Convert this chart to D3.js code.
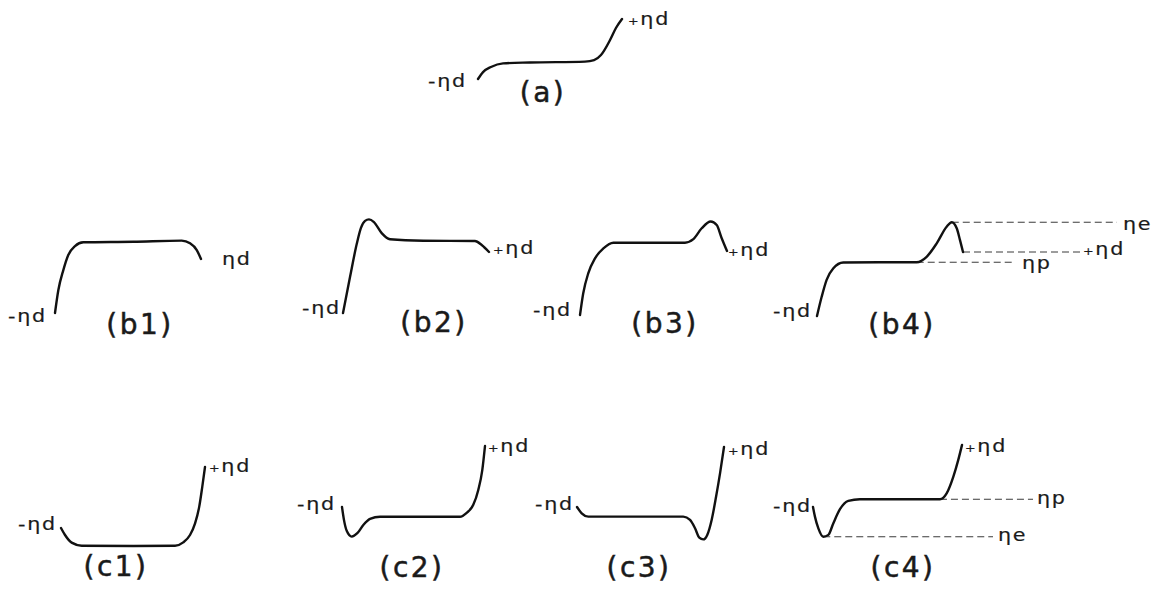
<!DOCTYPE html>
<html>
<head>
<meta charset="utf-8">
<script src="https://cdn.jsdelivr.net/npm/d3@7"></script>
<style>
  html, body { margin: 0; padding: 0; background: #ffffff; }
  svg { display: block; }
  text { font-family: "DejaVu Sans", sans-serif; fill: #1a1a1a; stroke: #1a1a1a; }
</style>
</head>
<body>
<svg id="fig" width="1162" height="594"></svg>
<script>
// Overpotential profiles along the electrode.
// Each point: [position along the electrode, 0–100, overpotential in units of ηd]
const panelIds = ["a", "b1", "b2", "b3", "b4", "c1", "c2", "c3", "c4"];
const panelTitles = ["(a)", "(b1)", "(b2)", "(b3)", "(b4)", "(c1)", "(c2)", "(c3)", "(c4)"];
const lowLabels = ["-ηd", "-ηd", "-ηd", "-ηd", "-ηd", "-ηd", "-ηd", "-ηd", "-ηd"];
const highLabels = ["+ηd", "ηd", "+ηd", "+ηd", null, "+ηd", "+ηd", "+ηd", "+ηd"];

const profileA = [
  [0, -1], [3.5, -0.77], [9, -0.6], [17.4, -0.48], [36, -0.45], [74.3, -0.42],
  [80.6, -0.37], [85.4, -0.2], [91.7, 0.3], [95.8, 0.7], [100, 1]
];
const profileB1 = [
  [0, -1], [2.3, -0.15], [5.7, 0.59], [9.1, 1.15], [13.7, 1.48], [19.4, 1.62],
  [53.6, 1.64], [86.8, 1.68], [92.5, 1.58], [97.1, 1.33], [100, 1]
];
const profileB2 = [
  [0, -1], [4.8, 0.18], [9.4, 1.26], [12.3, 1.79], [15.1, 2.02], [17.8, 2.07],
  [21.2, 1.98], [26.5, 1.62], [32.2, 1.42], [55, 1.37], [90.4, 1.36], [95, 1.23], [100, 1]
];
const profileB3 = [
  [0, -1], [2.2, -0.32], [5.6, 0.30], [10.2, 0.77], [15.9, 1.08], [22.7, 1.26],
  [49.9, 1.26], [71.4, 1.26], [77.1, 1.37], [82.8, 1.71], [88.9, 1.92], [93, 1.81],
  [96.4, 1.40], [100, 1]
];
const profileB4 = [
  [0, -1], [3.2, -0.40], [6.6, 0.13], [11.2, 0.49], [18, 0.67], [43.2, 0.68],
  [68.3, 0.68], [75.1, 0.85], [82, 1.27], [88.8, 1.79], [92.3, 1.93], [95.7, 1.74],
  [97.9, 1.38], [100, 1]
];
const profileC1 = [
  [0, -1], [2.8, -1.23], [7.4, -1.48], [14.4, -1.58], [50.2, -1.59], [79.2, -1.58],
  [84.9, -1.47], [89.6, -1.23], [93.1, -0.85], [96, -0.30], [98.1, 0.35], [100, 1]
];
const profileC2 = [
  [0, -1], [1.4, -1.43], [3.3, -1.78], [6.8, -1.97], [10.7, -1.86], [14.9, -1.59],
  [19.6, -1.39], [26.6, -1.32], [54.5, -1.32], [82.5, -1.32], [87.2, -1.19],
  [91.8, -0.93], [95.3, -0.44], [98.1, 0.21], [100, 1]
];
const profileC3 = [
  [0, -1], [3.2, -1.21], [7.7, -1.32], [40.6, -1.32], [72.3, -1.32], [76.9, -1.43],
  [80.3, -1.71], [83.2, -2.02], [85.9, -2.08], [88.6, -1.93], [91.6, -1.43],
  [94.6, -0.66], [97.3, 0.12], [100, 1]
];
const profileC4 = [
  [0, -1], [1.3, -1.31], [3.6, -1.69], [6.9, -1.96], [10.3, -1.90], [13.6, -1.53],
  [18.1, -1.07], [23.7, -0.80], [31.5, -0.75], [85.2, -0.75], [89.7, -0.56],
  [94.2, -0.02], [97.5, 0.52], [100, 1]
];

// Reference levels marked with dashed lines: [label, overpotential, position where the profile reaches it]
const levelsB4 = [["ηe", 1.93, 92.3], ["+ηd", 1, 100], ["ηp", 0.68, 68.3]];
const levelsC4 = [["ηp", -0.75, 85.2], ["ηe", -1.96, 6.9]];

const profiles = {
  a: profileA, b1: profileB1, b2: profileB2, b3: profileB3, b4: profileB4,
  c1: profileC1, c2: profileC2, c3: profileC3, c4: profileC4
};
const levels = { b4: levelsB4, c4: levelsC4 };

// Placement of each small plot on the page (pixels)
const layout = {
  a:  { x: [478, 622], y: [79, 19],   title: [543, 102], lo: [428, 87],  hi: [628, 25] },
  b1: { x: [55, 201],  y: [313, 259], title: [140, 334], lo: [8, 322],   hi: [222, 265] },
  b2: { x: [343, 489], y: [313, 252], title: [434, 332], lo: [302, 314], hi: [493, 254] },
  b3: { x: [580, 727], y: [315, 251], title: [665, 333], lo: [533, 316], hi: [728, 256] },
  b4: { x: [817, 963], y: [316, 252], title: [902, 334], lo: [773, 317], hi: null,
        levelEnd: [1117, 1082, 1013], levelLabelX: [1123, 1083, 1022], levelLabelDy: [8, 3, 7] },
  c1: { x: [61, 205],  y: [528, 467], title: [116, 576], lo: [18, 530],  hi: [209, 472] },
  c2: { x: [342, 485], y: [507, 446], title: [412, 577], lo: [297, 510], hi: [488, 452] },
  c3: { x: [577, 724], y: [507, 447], title: [639, 577], lo: [535, 510], hi: [728, 455] },
  c4: { x: [813, 962], y: [507, 445], title: [903, 577], lo: [773, 512], hi: [965, 452],
        levelEnd: [1033, 993], levelLabelX: [1037, 998], levelLabelDy: [5, 4] }
};

const svg = d3.select("#fig");

// Small labels like "+ηd": wide lettering, the sign set smaller than the symbol
function addSymbol(g, text, x, y) {
  const t = g.append("text")
    .attr("transform", `translate(${x},${y}) scale(1.15,1)`)
    .attr("font-size", 18)
    .attr("stroke-width", 0.2)
    .attr("letter-spacing", 1.5);
  if (text.startsWith("+")) {
    t.append("tspan").attr("font-size", 11).text("+");
    t.append("tspan").text(text.slice(1));
  } else {
    t.text(text);
  }
  return t;
}

panelIds.forEach((id, i) => {
  const L = layout[id];
  const g = svg.append("g").attr("class", "panel panel-" + id);
  const x = d3.scaleLinear().domain([0, 100]).range(L.x);
  const y = d3.scaleLinear().domain([-1, 1]).range(L.y);

  const line = d3.line()
    .x(d => x(d[0]))
    .y(d => y(d[1]))
    .curve(d3.curveMonotoneX);

  // dashed reference levels
  (levels[id] || []).forEach((lv, k) => {
    g.append("line")
      .attr("x1", x(lv[2])).attr("x2", L.levelEnd[k])
      .attr("y1", y(lv[1])).attr("y2", y(lv[1]))
      .attr("stroke", "#3a3a3a")
      .attr("stroke-width", 1)
      .attr("stroke-dasharray", "7,4");
    addSymbol(g, lv[0], L.levelLabelX[k], y(lv[1]) + L.levelLabelDy[k]);
  });

  g.append("path")
    .attr("d", line(profiles[id]))
    .attr("fill", "none")
    .attr("stroke", "#111")
    .attr("stroke-width", 2.4)
    .attr("stroke-linecap", "round")
    .attr("stroke-linejoin", "round");

  g.append("text")
    .attr("x", L.title[0]).attr("y", L.title[1])
    .attr("text-anchor", "middle")
    .attr("font-size", 28)
    .attr("stroke-width", 0.5)
    .attr("letter-spacing", 2.5)
    .text(panelTitles[i]);

  addSymbol(g, lowLabels[i], L.lo[0], L.lo[1]);
  if (highLabels[i] && L.hi) addSymbol(g, highLabels[i], L.hi[0], L.hi[1]);
});
</script>
</body>
</html>
